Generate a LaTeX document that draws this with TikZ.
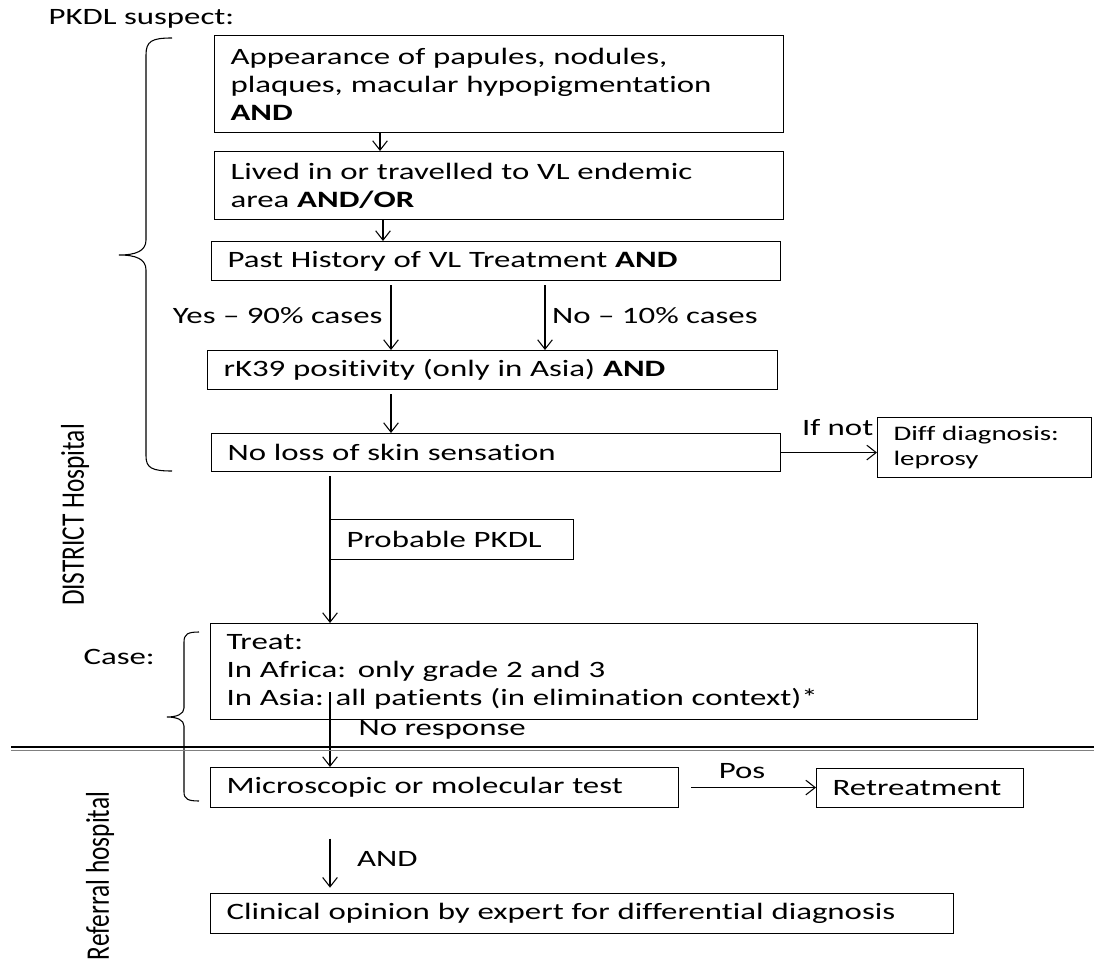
\documentclass[tikz,border=0pt]{standalone}
\usepackage{fontspec}
\setmainfont[FakeStretch=1.4,Ligatures={TeX,NoCommon}]{Carlito}
\newfontfamily\sidefont{Carlito}
\usetikzlibrary{arrows.meta,calc}
\begin{document}
\begin{tikzpicture}[x=0.75pt,y=-0.75pt,>={Straight Barb[length=7pt,width=11pt]},line width=0.8pt,
    font=\fontsize{17.6pt}{21pt}\selectfont,
    box/.style={draw,anchor=north west,align=left,inner xsep=12pt,inner ysep=0pt},
    lbl/.style={inner sep=0pt},
    side/.style={rotate=90,inner sep=0pt,font=\sidefont\fontsize{19pt}{21pt}\selectfont}]
    \useasboundingbox (0,0) rectangle (1094,962);
    \node[lbl,anchor=west] (suspect) at (48,19) {PKDL suspect:};
    \node[box,text width=402.75pt,minimum height=72.75pt] (papules) at (214,35) {Appearance of papules, nodules,\\ plaques, macular hypopigmentation\\ \textbf{AND}};
    \node[box,text width=402.75pt,minimum height=51pt] (endemic) at (214,151) {Lived in or travelled to VL endemic\\ area \textbf{AND/OR}};
    \node[box,text width=402.75pt,minimum height=29.25pt] (history) at (211,241) {Past History of VL Treatment \textbf{AND}};
    \node[box,text width=403.5pt,minimum height=29.25pt] (rk39) at (207,350) {rK39 positivity (only in Asia) \textbf{AND}};
    \node[box,text width=402.75pt,minimum height=28.5pt] (sensation) at (211,433) {No loss of skin sensation};
    \node[box,text width=136.5pt,minimum height=45pt,font=\fontsize{15.5pt}{18.75pt}\selectfont] (leprosy) at (877,417) {Diff diagnosis:\\ leprosy};
    \node[box,text width=158.25pt,minimum height=30pt] (probable) at (330,519) {Probable PKDL};
    \node[box,text width=551.25pt,minimum height=72pt] (treat) at (210,623) {Treat:\\ In Africa: only grade 2 and 3\\ In Asia: all patients (in elimination context)*};
    \node[box,text width=327pt,minimum height=30pt] (micro) at (210,767) {Microscopic or molecular test};
    \node[box,text width=131.25pt,minimum height=29.25pt] (retreat) at (816,768) {Retreatment};
    \node[box,text width=533.25pt,minimum height=30pt] (expert) at (210,893) {Clinical opinion by expert for differential diagnosis};
    \node[lbl,anchor=west] (case) at (83,657) {Case:};
    \node[side] (district) at (75,515) {\scalebox{1}[1.3]{DISTRICT Hospital}};
    \node[side] (referral) at (100,876) {\scalebox{1}[1.3]{Referral hospital}};
    \coordinate (xa) at (380,0);
    \coordinate (xb) at (383,0);
    \coordinate (xc) at (391,0);
    \coordinate (xd) at (545,0);
    \coordinate (xe) at (330,0);
    \draw[->] (xa |- papules.south) -- (xa |- endemic.north);
    \draw[->] (xb |- endemic.south) -- (xb |- history.north);
    \draw[->,shorten <=3pt] (xc |- history.south) -- node[lbl,left=6pt] {Yes -- 90\% cases} (xc |- rk39.north);
    \draw[->,shorten <=3pt] (xd |- history.south) -- node[lbl,right=5pt] {No -- 10\% cases} (xd |- rk39.north);
    \draw[->,shorten <=3pt] (xc |- rk39.south) -- (xc |- sensation.north);
    \draw[->] (sensation.east) -- node[lbl,pos=0.59,above=12pt] {If not} (sensation.east -| leprosy.west);
    \draw[->,shorten <=3pt] (xe |- sensation.south) -- (xe |- treat.north);
    \draw[->] ($(xe |- treat.south)+(0,-28)$) -- node[lbl,right=21pt] {No response} (xe |- micro.north);
    \draw[->,shorten <=9pt] (micro.east) -- node[lbl,pos=0.46,above=6pt] {Pos} (micro.east -| retreat.west);
    \draw[->,shorten <=23pt,shorten >=4pt] (xe |- micro.south) -- node[lbl,pos=0.6,right=20pt] {AND} (xe |- expert.north);
    \draw (172,38) .. controls (152,38) and (146,41) .. (146,55) -- (146,240) .. controls (146,251) and (136,255) .. (119,255) .. controls (136,255) and (146,259) .. (146,270) -- (146,456) .. controls (146,468) and (152,471) .. (172,471);
    \draw (199,632) .. controls (188,632) and (184,634) .. (184,642) -- (184,708) .. controls (184,714) and (177,717) .. (167,717) .. controls (177,717) and (184,720) .. (184,726) -- (184,792) .. controls (184,799) and (188,801) .. (199,801);
    \draw[line width=1.2pt] (11,747) -- (1094,747);
    \draw[gray,line width=1.2pt] (11,750.5) -- (1094,750.5);
\end{tikzpicture}
\end{document}
